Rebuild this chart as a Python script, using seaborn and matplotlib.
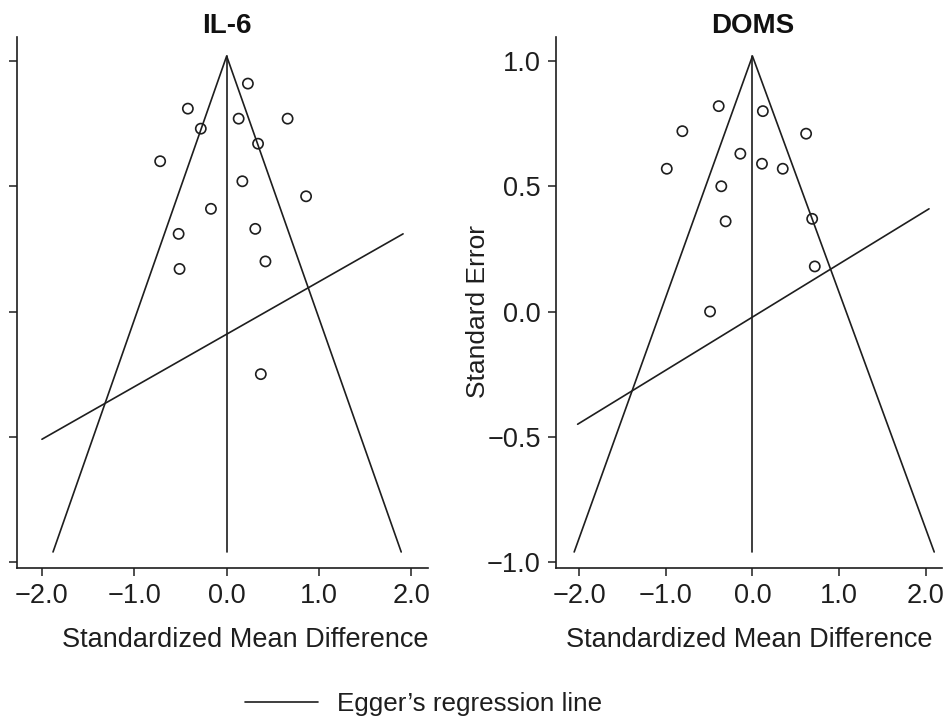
import matplotlib
matplotlib.use("Agg")
import matplotlib.pyplot as plt
from matplotlib.lines import Line2D
import seaborn as sns
import pandas as pd

# ---- data ----
il6_smd = [0.23, -0.42, -0.28, 0.13, 0.66, 0.34, -0.72, 0.17, 0.86, -0.17, -0.52, 0.31, -0.51, 0.42, 0.37]
il6_se = [0.91, 0.81, 0.73, 0.77, 0.77, 0.67, 0.60, 0.52, 0.46, 0.41, 0.31, 0.33, 0.17, 0.20, -0.25]

doms_smd = [-0.39, 0.12, -0.81, 0.62, -0.14, 0.11, -0.99, 0.35, -0.36, -0.31, 0.69, 0.72, -0.49]
doms_se = [0.82, 0.80, 0.72, 0.71, 0.63, 0.59, 0.57, 0.57, 0.50, 0.36, 0.37, 0.18, 0.00]

# funnel (bottom-left, apex, bottom-right) and Egger's line endpoints
il6_funnel_x = [-1.88, 0.0, 1.89]
il6_funnel_y = [-0.96, 1.02, -0.96]
il6_egger_x = [-2.0, 1.91]
il6_egger_y = [-0.51, 0.31]

doms_funnel_x = [-2.06, 0.0, 2.10]
doms_funnel_y = [-0.96, 1.02, -0.96]
doms_egger_x = [-2.02, 2.04]
doms_egger_y = [-0.45, 0.41]

x_ticks = [-2.0, -1.0, 0.0, 1.0, 2.0]
x_ticklabels = ["\u22122.0", "\u22121.0", "0.0", "1.0", "2.0"]
y_ticks = [-1.0, -0.5, 0.0, 0.5, 1.0]
y_ticklabels = ["\u22121.0", "\u22120.5", "0.0", "0.5", "1.0"]

titles = ["IL-6", "DOMS"]
xlabel = "Standardized Mean Difference"
ylabel = "Standard Error"
legend_label = "Egger\u2019s regression line"

# ---- style ----
sns.set_style("ticks")
plt.rcParams["font.family"] = ["Liberation Sans", "DejaVu Sans"]
FS = 19.5

W, H = 947, 723
fig = plt.figure(figsize=(W / 100, H / 100), dpi=100)

def axes_rect(x0, x1, ytop, ybot):
    return [x0 / W, 1 - ybot / H, (x1 - x0) / W, (ybot - ytop) / H]

ax1 = fig.add_axes(axes_rect(17, 428, 37, 568))
ax2 = fig.add_axes(axes_rect(556, 942, 37, 568))

panels = [
    (ax1, il6_smd, il6_se, il6_funnel_x, il6_funnel_y, il6_egger_x, il6_egger_y, (-2.27, 2.18)),
    (ax2, doms_smd, doms_se, doms_funnel_x, doms_funnel_y, doms_egger_x, doms_egger_y, (-2.27, 2.19)),
]

LC = "#1e1e1e"
for i, (ax, sx, sy, fx, fy, ex, ey, xlim) in enumerate(panels):
    ax.plot(fx, fy, color=LC, lw=1.2)
    ax.plot([0, 0], [fy[1], fy[0]], color=LC, lw=1.2)
    ax.plot(ex, ey, color=LC, lw=1.2)
    df = pd.DataFrame({"smd": sx, "se": sy})
    sns.scatterplot(data=df, x="smd", y="se", ax=ax, marker="o", s=54,
                    facecolor="none", edgecolor=LC, linewidth=1.2, zorder=3)
    ax.set_xlim(*xlim)
    ax.set_ylim(-1.024, 1.096)
    ax.set_xticks(x_ticks)
    ax.set_xticklabels(x_ticklabels, fontsize=FS)
    ax.set_yticks(y_ticks)
    if i == 0:
        ax.set_yticklabels([])
        ax.set_ylabel("")
    else:
        ax.set_yticklabels(y_ticklabels, fontsize=FS)
        ax.set_ylabel(ylabel, fontsize=FS - 0.5, color=LC)
        ax.yaxis.set_label_coords(-0.172, 0.483)
    ax.set_xlabel(xlabel, fontsize=FS, color=LC)
    ax.xaxis.set_label_coords(0.555 if i == 0 else 0.5, -0.111)
    ax.tick_params(direction="out", length=6, width=1.1, pad=5,
                   colors=LC, labelcolor=LC)
    for s in ["top", "right"]:
        ax.spines[s].set_visible(False)
    for s in ["left", "bottom"]:
        ax.spines[s].set_linewidth(1.2)
        ax.spines[s].set_color(LC)
    ax.text(0.0, 1.0207, titles[i], transform=ax.get_xaxis_transform(),
            ha="center", va="center", fontsize=FS + 0.5, fontweight="bold", color="#111111")

handle = Line2D([], [], color=LC, lw=1.2)
fig.legend([handle], [legend_label], loc="center left",
           bbox_to_anchor=(245 / W, 1 - 704 / H), frameon=False,
           borderaxespad=0, borderpad=0, handlelength=2.8, handletextpad=0.75,
           fontsize=18.7, labelcolor=LC)

fig.savefig("out.png", dpi=100, facecolor="white")
